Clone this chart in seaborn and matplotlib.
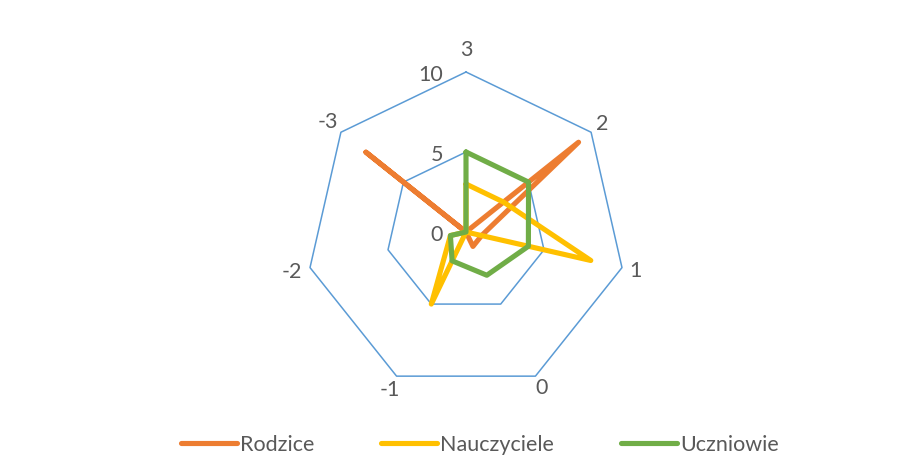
import numpy as np
import pandas as pd
import seaborn as sns
from matplotlib import pyplot as plt

# Categories clockwise from the top
categories = ['3', '2', '1', '0', '-1', '-2', '-3']
rodzice = [0, 9, 1, 1, 0, 0, 8]
nauczyciele = [3, 3, 8, 0, 5, 1, 0]
uczniowie = [5, 5, 4, 3, 2, 1, 0]
series_names = ['Rodzice', 'Nauczyciele', 'Uczniowie']
ring_values = [0, 5, 10]

colors = ['#ED7D31', '#FFC000', '#70AD47']
grid_color = '#5B9BD5'
text_color = '#595959'

sns.set_theme(style="white")
plt.rcParams['font.family'] = ['Lato', 'DejaVu Sans']
plt.rcParams['text.color'] = text_color

n = len(categories)
theta = np.linspace(0, 2 * np.pi, n, endpoint=False)
theta_closed = np.append(theta, theta[0] + 2 * np.pi)

rows = []
for name, vals in zip(series_names, [rodzice, nauczyciele, uczniowie]):
    closed = list(vals) + [vals[0]]
    for t, v in zip(theta_closed, closed):
        rows.append({'theta': t, 'value': v, 'series': name})
df = pd.DataFrame(rows)

fig = plt.figure(figsize=(9.13, 4.71), dpi=100)
ax = fig.add_axes([(466 - 160) / 913, (471 - 232 - 160) / 471, 320 / 913, 320 / 471],
                  projection='polar')
ax.set_theta_zero_location('N')
ax.set_theta_direction(-1)
ax.set_ylim(0, 10)
ax.grid(False)
ax.spines['polar'].set_visible(False)
ax.set_xticks([])
ax.set_yticks([])
ax.set_facecolor('none')

# heptagonal rings
for r in ring_values[1:]:
    ax.plot(theta_closed, [r] * len(theta_closed), color=grid_color, lw=1.1, clip_on=False, zorder=1)

sns.lineplot(data=df, x='theta', y='value', hue='series', hue_order=series_names,
             palette=colors, sort=False, estimator=None, lw=3.7, ax=ax,
             solid_joinstyle='round', solid_capstyle='round', clip_on=False, zorder=3)
handles, labels = ax.get_legend_handles_labels()
if ax.get_legend() is not None:
    ax.get_legend().remove()
ax.set_xlabel('')
ax.set_ylabel('')

fs = 15.5

# category labels
label_r = [11.4, 10.85, 10.85, 10.85, 10.95, 11.15, 11.05]
for t, lab, r in zip(theta, categories, label_r):
    ax.text(t, r, lab, ha='center', va='center', fontsize=fs, color=text_color, clip_on=False)

# radial axis labels
for r in ring_values:
    ax.annotate(str(r), xy=(0, r), xytext=(-23, -3), textcoords='offset pixels',
                ha='right', va='center', fontsize=fs, color=text_color, annotation_clip=False)

leg = fig.legend(handles, labels, loc='center', bbox_to_anchor=(480 / 913, 1 - 445 / 471),
                 ncol=3, frameon=False, handlelength=2.6, handletextpad=0.15,
                 columnspacing=3.1, fontsize=fs)
for line in leg.get_lines():
    line.set_linewidth(3.7)
    line.set_solid_capstyle('round')
for txt in leg.get_texts():
    txt.set_color(text_color)

fig.savefig('out.png', dpi=100)
